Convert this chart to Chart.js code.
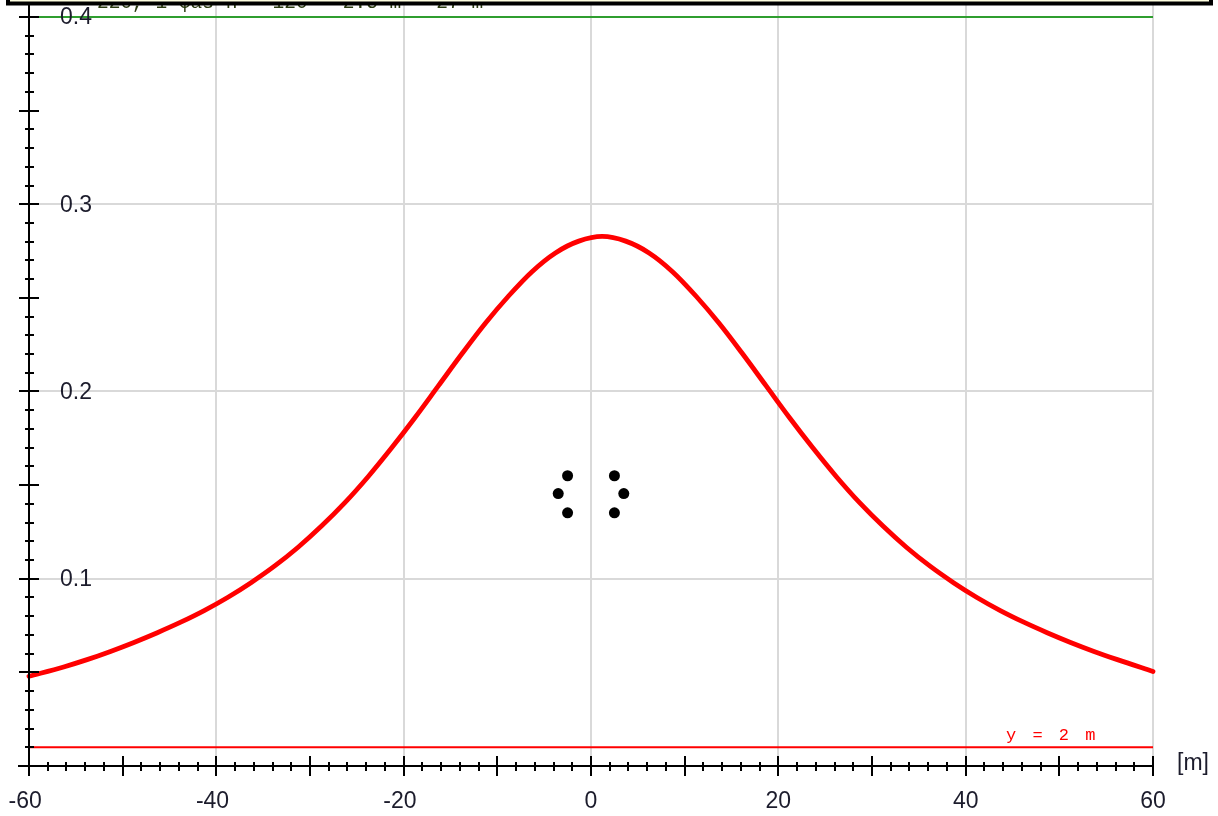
<!DOCTYPE html>
<html>
<head>
<meta charset="utf-8">
<script src="https://cdn.jsdelivr.net/npm/chart.js@4/dist/chart.umd.min.js"></script>
<style>
html,body{margin:0;padding:0;background:#fff;}
canvas{display:block;}
</style>
</head>
<body>
<canvas id="c" width="1218" height="816"></canvas>
<script>
// ---- data ----
const distances = [-60,-56.3,-53.8,-51.3,-48.8,-46.3,-43.8,-41.3,-38.8,-36.3,-33.8,-31.3,-28.8,-26.3,-23.8,-21.3,-18.8,-16.3,-13.8,-11.3,-8.8,-6.3,-3.8,-1.3,1.2,3.7,6.2,8.7,11.2,13.7,16.2,18.7,21.2,23.7,26.2,28.7,31.2,33.7,36.2,38.7,41.2,43.7,46.2,48.7,51.2,53.7,56.2,60];
const fieldValues = [0.0479,0.0529,0.0568,0.0612,0.0660,0.0712,0.0768,0.0830,0.0900,0.0979,0.1067,0.1167,0.1280,0.1405,0.1545,0.1698,0.1860,0.2030,0.2200,0.2363,0.2510,0.2640,0.2740,0.2803,0.2828,0.2803,0.2740,0.2640,0.2510,0.2363,0.2200,0.2030,0.1860,0.1698,0.1545,0.1405,0.1280,0.1167,0.1067,0.0979,0.0900,0.0830,0.0768,0.0712,0.0660,0.0612,0.0568,0.0505];
const conductorX = [-2.5,-3.5,-2.5,2.5,3.5,2.5];
const conductorY = [0.155,0.1455,0.1352,0.155,0.1455,0.1352];
const groundLevel = 0.01;      // "y = 2 m" line
const limitLevel = 0.4;        // green limit line
const xTickLabels = [-60,-40,-20,0,20,40,60];
const yTickLabels = [0.1,0.2,0.3,0.4];
const groundText = 'y = 2 m';
const unitText = '[m]';
const headerText = '220, 1 фаз n = 120 - 2.5 m - 27 m';

const curve = distances.map((x,i)=>({x:x,y:fieldValues[i]}));
const conductors = conductorX.map((x,i)=>({x:x,y:conductorY[i]}));
const xMin = xTickLabels[0], xMax = xTickLabels[xTickLabels.length-1];

const axesPlugin = {
  id:'customAxes',
  beforeDatasetsDraw(chart){
    const ctx = chart.ctx, xs = chart.scales.x, ys = chart.scales.y, a = chart.chartArea;
    ctx.save();
    ctx.strokeStyle = '#d9d9d9';
    ctx.lineWidth = 2;
    xTickLabels.forEach(v=>{
      if (v === xMin) return;
      const px = Math.round(xs.getPixelForValue(v));
      ctx.beginPath(); ctx.moveTo(px, a.top-3); ctx.lineTo(px, a.bottom); ctx.stroke();
    });
    yTickLabels.forEach(v=>{
      const py = Math.round(ys.getPixelForValue(v));
      ctx.beginPath(); ctx.moveTo(a.left, py); ctx.lineTo(a.right, py); ctx.stroke();
    });
    ctx.restore();
  },
  afterDatasetsDraw(chart){
    const ctx = chart.ctx, xs = chart.scales.x, ys = chart.scales.y, a = chart.chartArea;
    ctx.save();
    ctx.strokeStyle = '#000';
    ctx.lineWidth = 2;
    const ax = Math.round(xs.getPixelForValue(xMin));
    const ay = Math.round(ys.getPixelForValue(0));
    // axis lines
    ctx.beginPath(); ctx.moveTo(ax, 0); ctx.lineTo(ax, ay+10); ctx.stroke();
    ctx.beginPath(); ctx.moveTo(ax-11, ay); ctx.lineTo(Math.round(xs.getPixelForValue(xMax))+1, ay); ctx.stroke();
    // y ticks
    for (let k=1;k<=40;k++){
      const v = k/100;
      const py = Math.round(ys.getPixelForValue(v));
      const major = (k%5===0);
      ctx.beginPath();
      if (major){ ctx.moveTo(ax-10, py); ctx.lineTo(ax+10, py); }
      else { ctx.moveTo(ax-4, py); ctx.lineTo(ax+5, py); }
      ctx.stroke();
    }
    // x ticks
    for (let v=xMin; v<=xMax; v+=2){
      const px = Math.round(xs.getPixelForValue(v));
      const major = (v%10===0);
      ctx.beginPath();
      if (major){ ctx.moveTo(px, ay-10); ctx.lineTo(px, ay+10); }
      else { ctx.moveTo(px, ay-4); ctx.lineTo(px, ay+5); }
      ctx.stroke();
    }
    // labels
    ctx.fillStyle = '#1c1c2c';
    ctx.font = '23px "Liberation Sans", Arial, sans-serif';
    ctx.textBaseline = 'middle';
    ctx.textAlign = 'left';
    yTickLabels.forEach(v=>{
      const py = ys.getPixelForValue(v);
      ctx.fillText(String(v), 60, py+1);
    });
    ctx.textBaseline = 'alphabetic';
    xTickLabels.forEach(v=>{
      const px = xs.getPixelForValue(v);
      const absW = ctx.measureText(String(Math.abs(v))).width;
      const full = ctx.measureText(String(v)).width;
      ctx.fillText(String(v), px - absW/2 - (full-absW), 808);
    });
    ctx.fillText(unitText, 1177, 770);
    // ground label
    ctx.fillStyle = '#ff0000';
    ctx.font = '17px "Liberation Mono", "Courier New", monospace';
    try { ctx.letterSpacing = '3px'; } catch(e){}
    ctx.fillText(groundText, 1006, 740);
    try { ctx.letterSpacing = '0px'; } catch(e){}
    // header (mostly hidden under the box)
    ctx.fillStyle = '#2a3a10';
    ctx.font = '19.5px "Liberation Mono", "Courier New", monospace';
    ctx.fillText(headerText, 97, 8);
    ctx.fillStyle = '#ffffe1';
    ctx.fillRect(8, -30, 1203, 33);
    ctx.strokeStyle = '#000';
    ctx.lineWidth = 4;
    ctx.strokeRect(8, -30, 1203, 33.5);
    ctx.restore();
  }
};

new Chart(document.getElementById('c'), {
  type:'scatter',
  data:{
    datasets:[
      {data:[{x:xMin,y:groundLevel},{x:xMax,y:groundLevel}], showLine:true, borderColor:'#ff0000', borderWidth:2, pointRadius:0, clip:false},
      {data:[{x:xMin,y:limitLevel},{x:xMax,y:limitLevel}], showLine:true, borderColor:'#2f9e2f', borderWidth:2, pointRadius:0, clip:false},
      {data:curve, showLine:true, borderColor:'#ff0000', borderWidth:4.8, borderCapStyle:'round', borderJoinStyle:'round', cubicInterpolationMode:'monotone', pointRadius:0, clip:false},
      {data:conductors, showLine:false, pointRadius:5.5, pointBackgroundColor:'#000', pointBorderColor:'#000', pointBorderWidth:0}
    ]
  },
  options:{
    responsive:false,
    animation:false,
    layout:{padding:{left:29, right:65, top:8, bottom:50}},
    plugins:{legend:{display:false}, tooltip:{enabled:false}},
    scales:{
      x:{type:'linear', min:xMin, max:xMax, display:false},
      y:{type:'linear', min:0, max:0.4048, display:false}
    }
  },
  plugins:[axesPlugin]
});
</script>
</body>
</html>
